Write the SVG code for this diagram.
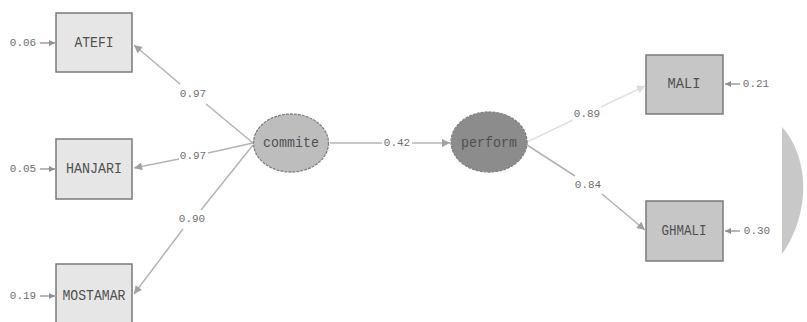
<svg xmlns="http://www.w3.org/2000/svg" width="807" height="322" viewBox="0 0 807 322">
<defs>
<marker id="ah" viewBox="0 0 10 10" refX="10" refY="5" markerWidth="10" markerHeight="8" markerUnits="userSpaceOnUse" orient="auto"><path d="M0,0 L10,5 L0,10 Z" fill="#a0a0a0"/></marker>
<marker id="ahl" viewBox="0 0 10 10" refX="10" refY="5" markerWidth="10" markerHeight="8" markerUnits="userSpaceOnUse" orient="auto"><path d="M0,0 L10,5 L0,10 Z" fill="#dcdcdc"/></marker>
<marker id="ahs" viewBox="0 0 10 10" refX="10" refY="5" markerWidth="7" markerHeight="6" markerUnits="userSpaceOnUse" orient="auto"><path d="M0,0 L10,5 L0,10 Z" fill="#909090"/></marker>
</defs>
<style>
.box{stroke:#7a7a7a;stroke-width:1.5}
.lt{fill:#e6e6e6}
.dk{fill:#c6c6c6}
.lbl{font-family:"Liberation Mono",monospace;font-size:14px;fill:#505050;text-anchor:middle;dominant-baseline:central}
.num{font-family:"Liberation Mono",monospace;font-size:11px;fill:#707070;text-anchor:middle;dominant-baseline:central}
.ln{stroke:#b4b4b4;stroke-width:1.5;fill:none}
.err{stroke:#909090;stroke-width:1.3;fill:none;marker-end:url(#ahs)}
.ell{stroke:#808080;stroke-width:1.3;stroke-dasharray:3 1}
</style>
<rect width="807" height="322" fill="#ffffff"/>
<path d="M782,127 C796,142 805,168 803,195 C801,220 792,240 782,254 Z" fill="#c8c8c8"/>
<g id="connectors">
<line class="ln" x1="253" y1="143" x2="206" y2="104"/>
<line class="ln" x1="180" y1="84" x2="134" y2="45" marker-end="url(#ah)"/>
<line class="ln" x1="253" y1="143" x2="208" y2="153"/>
<line class="ln" x1="179" y1="159" x2="134" y2="168" marker-end="url(#ah)"/>
<line class="ln" x1="253" y1="145" x2="201" y2="210"/>
<line class="ln" x1="183" y1="229" x2="134" y2="294" marker-end="url(#ah)"/>
<line class="ln" x1="330" y1="143" x2="382" y2="143"/>
<line class="ln" x1="412" y1="143" x2="450" y2="143" marker-end="url(#ah)"/>
<line stroke="#e0e0e0" stroke-width="1.5" x1="527" y1="142" x2="573" y2="120"/>
<line stroke="#e0e0e0" stroke-width="1.5" x1="601" y1="107" x2="645" y2="86" marker-end="url(#ahl)"/>
<line class="ln" x1="527" y1="145" x2="575" y2="176"/>
<line class="ln" x1="602" y1="194" x2="645" y2="230" marker-end="url(#ah)"/>
<line class="err" x1="40" y1="43" x2="55" y2="43"/>
<line class="err" x1="40" y1="169" x2="55" y2="169"/>
<line class="err" x1="40" y1="296" x2="55" y2="296"/>
<line class="err" x1="740" y1="84" x2="725" y2="84"/>
<line class="err" x1="740" y1="231" x2="725" y2="231"/>
<text class="num" x="193" y="94">0.97</text>
<text class="num" x="193" y="156">0.97</text>
<text class="num" x="192" y="219">0.90</text>
<text class="num" x="397" y="143">0.42</text>
<text class="num" x="587" y="114">0.89</text>
<text class="num" x="588" y="185">0.84</text>
<text class="num" x="23" y="43">0.06</text>
<text class="num" x="23" y="169">0.05</text>
<text class="num" x="23" y="296">0.19</text>
<text class="num" x="756" y="84">0.21</text>
<text class="num" x="757" y="231">0.30</text>
</g>
<g id="ATEFI"><rect class="box lt" x="56" y="13" width="76" height="59"/><text class="lbl" x="94" y="43" textLength="39" lengthAdjust="spacingAndGlyphs">ATEFI</text></g>
<g id="HANJARI"><rect class="box lt" x="56" y="139" width="76" height="60"/><text class="lbl" x="94" y="169" textLength="56" lengthAdjust="spacingAndGlyphs">HANJARI</text></g>
<g id="MOSTAMAR"><rect class="box lt" x="56" y="264" width="76" height="62"/><text class="lbl" x="94" y="296" textLength="63" lengthAdjust="spacingAndGlyphs">MOSTAMAR</text></g>
<g id="commite"><ellipse class="ell" cx="291" cy="143" rx="37.5" ry="29" fill="#bdbdbd"/><text class="lbl" x="291" y="143" textLength="56" lengthAdjust="spacingAndGlyphs">commite</text></g>
<g id="perform"><ellipse class="ell" cx="489" cy="142" rx="38" ry="30" fill="#8c8c8c"/><text class="lbl" x="489" y="143" textLength="56" lengthAdjust="spacingAndGlyphs" fill="#404040">perform</text></g>
<g id="MALI"><rect class="box dk" x="646" y="55" width="77" height="59"/><text class="lbl" x="684" y="84" textLength="33" lengthAdjust="spacingAndGlyphs">MALI</text></g>
<g id="GHMALI"><rect class="box dk" x="646" y="201" width="77" height="60"/><text class="lbl" x="684" y="231" textLength="45" lengthAdjust="spacingAndGlyphs">GHMALI</text></g>
</svg>
